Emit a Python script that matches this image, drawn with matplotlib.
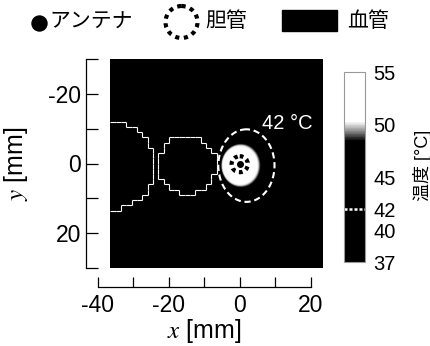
# Carte de température autour de l'antenne (coupe xy), avec vaisseaux et voie biliaire
import numpy as np
import matplotlib
matplotlib.use("Agg")
import matplotlib.pyplot as plt
from matplotlib.colors import LinearSegmentedColormap, Normalize
from matplotlib.collections import LineCollection
from matplotlib.patches import Circle, Rectangle

plt.rcParams['font.family'] = ['Liberation Sans', 'Noto Sans CJK JP']
plt.rcParams['mathtext.fontset'] = 'stix'
plt.rcParams['axes.unicode_minus'] = False

# --- données (mm, °C) ---
vessel_cx = [-36.5, -15.0]
vessel_cy = [0.5, 0.3]
vessel_r = [12.5, 8.3]
voxel = 1.5

iso_temp = [50, 42]          # isothermes lues
iso_cx = [0.15, 1.9]
iso_cy = [0.55, 0.6]
iso_ax = [5.15, 7.9]
iso_ay = [5.75, 10.4]
t_min, t_max = 37, 55

antenna_xy = (0.0, 0.2)
duct_r = 2.3

cbar_ticks = [37, 40, 42, 45, 50, 55]
x_ticks = [-40, -30, -20, -10, 0, 10, 20]
x_labels = ['-40', '', '-20', '', '0', '', '20']
y_ticks = [-30, -20, -10, 0, 10, 20, 30]
y_labels = ['', '-20', '', '0', '', '20', '']

x0, x1, y0, y1 = -36.5, 23.5, -30.0, 30.0

# champ de température entre les isothermes
xs = np.arange(x0 + 0.05, x1, 0.1)
ys = np.arange(y0 + 0.05, y1, 0.1)
X, Y = np.meshgrid(xs, ys)
d_in = np.hypot((X - iso_cx[0]) / iso_ax[0], (Y - iso_cy[0]) / iso_ay[0])
d_out = np.hypot((X - iso_cx[1]) / iso_ax[1], (Y - iso_cy[1]) / iso_ay[1])
T = np.empty_like(X)
core = d_in <= 1
T[core] = iso_temp[0] + (t_max - iso_temp[0]) * (1 - d_in[core])
ring = (~core) & (d_out <= 1)
f = (d_in[ring] - 1) / ((d_in[ring] - 1) + (1 - d_out[ring]))
T[ring] = iso_temp[0] - (iso_temp[0] - iso_temp[1]) * f
outer = d_out > 1
T[outer] = iso_temp[1] - (iso_temp[1] - t_min) * np.clip(d_out[outer] - 1, 0, 1)

norm = Normalize(t_min, t_max)
cmap = LinearSegmentedColormap.from_list("bw", [
    (0.0, "black"), (norm(48.5), "black"), (norm(49.4), "#8a8a8a"),
    (norm(50.3), "white"), (1.0, "white")])


def mask_edges(mask, xe, ye):
    segs = []
    for j, i in zip(*np.nonzero(mask[:, 1:] != mask[:, :-1])):
        segs.append([(xe[i + 1], ye[j]), (xe[i + 1], ye[j + 1])])
    for j, i in zip(*np.nonzero(mask[1:, :] != mask[:-1, :])):
        segs.append([(xe[i], ye[j + 1]), (xe[i + 1], ye[j + 1])])
    return segs


fig = plt.figure(figsize=(4.31, 3.46), dpi=100)
ax = fig.add_axes([98 / 431, 1 - 268 / 346, 225 / 431, 209 / 346])

im = ax.imshow(T, extent=(x0, x1, y1, y0), origin='upper', cmap=cmap, norm=norm,
               aspect='auto', interpolation='bilinear')
ax.contour(X, Y, T, levels=[42], colors='white', linewidths=1.5,
           linestyles=[(0, (3, 1.8))])

# contours des vaisseaux (voxels)
xe = np.arange(x0, x1 + 0.01, voxel)
ye = np.arange(y0, y1 + 0.01, voxel)
XC, YC = np.meshgrid((xe[:-1] + xe[1:]) / 2, (ye[:-1] + ye[1:]) / 2)
segs = []
for cx, cy, r in zip(vessel_cx, vessel_cy, vessel_r):
    segs += mask_edges((XC - cx) ** 2 + (YC - cy) ** 2 <= r ** 2, xe, ye)
ax.add_collection(LineCollection(segs, colors='white', linewidths=0.8))

# voie biliaire + antenne
ax.add_patch(Circle(antenna_xy, duct_r, fill=False, ec='black', lw=3,
                    ls=(0, (0.9, 0.9))))
ax.plot(*antenna_xy, 'o', color='black', ms=4)
ax.text(6.3, -11.5, "42 °C", color='white', fontsize=14.5, ha='left', va='center')

ax.set_xlim(-40, 23.5)
ax.set_ylim(30, -30)
for s in ['top', 'right']:
    ax.spines[s].set_visible(False)
ax.spines['left'].set_position(('outward', 8.6))
ax.spines['left'].set_bounds(-30, 30)
ax.spines['bottom'].set_position(('outward', 13.7))
ax.spines['bottom'].set_bounds(-40, 20)
ax.set_xticks(x_ticks, x_labels)
ax.set_yticks(y_ticks, y_labels)
ax.tick_params(axis='y', direction='in', length=8.6, width=0.9, pad=3.5, labelsize=16.5)
ax.tick_params(axis='x', direction='in', length=7.5, width=0.9, pad=5, labelsize=16.5)
for s in ['left', 'bottom']:
    ax.spines[s].set_linewidth(0.9)
ax.set_xlabel("$x$ [mm]", fontsize=18)
ax.xaxis.set_label_coords(0.47, -0.235)
ax.set_ylabel("$y$ [mm]", fontsize=18)
ax.yaxis.set_label_coords(-0.30, 0.5)

# barre de couleur
cax = fig.add_axes([344 / 431, 1 - 262 / 346, 21 / 431, 190 / 346])
cb = fig.colorbar(im, cax=cax, ticks=cbar_ticks)
cb.outline.set_edgecolor('#999999')
cb.outline.set_linewidth(0.8)
cax.tick_params(length=0, pad=6, labelsize=14.5)
cax.axhline(42, color='white', lw=1.8, ls=(0, (1.2, 0.8)))
cax.set_ylabel("温度 [°C]", fontsize=13, rotation=90)
cax.yaxis.set_label_coords(3.29, 0.51)

# légende en haut
lax = fig.add_axes([0, 1 - 45 / 346, 1, 45 / 346])
lax.set_xlim(0, 431)
lax.set_ylim(45, 0)
lax.axis('off')
lax.plot(39.5, 23, 'o', color='black', ms=10.8)
lax.text(49, 22.5, "アンテナ", fontsize=15, ha='left', va='center')
lax.add_patch(Circle((181.5, 22), 16, fill=False, ec='black', lw=3, ls=(0, (1, 1.1))))
lax.text(205, 21.5, "胆管", fontsize=15, ha='left', va='center')
lax.add_patch(Rectangle((282, 10), 55, 21, color='black'))
lax.text(347, 21.5, "血管", fontsize=15, ha='left', va='center')

plt.savefig("out.png", dpi=100)
